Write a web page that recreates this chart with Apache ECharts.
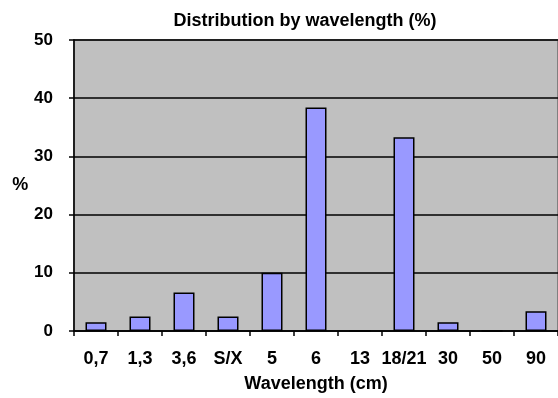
<!DOCTYPE html>
<html>
<head>
<meta charset="utf-8">
<script src="https://cdn.jsdelivr.net/npm/echarts@6/dist/echarts.min.js"></script>
<style>html,body{margin:0;padding:0;background:#fff;}#c{width:558px;height:398px;}</style>
</head>
<body>
<div id="c"></div>
<script>
var categories = ['0,7', '1,3', '3,6', 'S/X', '5', '6', '13', '18/21', '30', '50', '90'];
var values = [1.5, 2.5, 6.6, 2.5, 10, 38.4, 0, 33.3, 1.5, 0, 3.4];
var yTicks = {min: 0, max: 50, interval: 10};

var font = 'Liberation Sans, Arial, sans-serif';
var chart = echarts.init(document.getElementById('c'), null, {renderer: 'canvas'});
chart.setOption({
  animation: false,
  backgroundColor: '#ffffff',
  title: {
    text: 'Distribution by wavelength (%)',
    left: 300, top: 7, textAlign: 'center',
    textStyle: {fontFamily: font, fontWeight: 'bold', fontSize: 18, color: '#000'}
  },
  grid: {
    left: 74, top: 40, width: 492, height: 292,
    show: true, backgroundColor: '#c0c0c0', borderColor: '#808080', borderWidth: 2
  },
  xAxis: {
    type: 'category', data: categories, boundaryGap: true,
    name: 'Wavelength (cm)', nameLocation: 'middle', nameGap: 44,
    nameTextStyle: {fontFamily: font, fontWeight: 'bold', fontSize: 18, color: '#000'},
    axisLine: {lineStyle: {color: '#000', width: 1.5}},
    axisTick: {show: true, alignWithLabel: false, length: 5, lineStyle: {color: '#000', width: 1.5}},
    axisLabel: {fontFamily: font, fontWeight: 'bold', fontSize: 18, color: '#000', margin: 19, interval: 0},
    splitLine: {show: false}
  },
  yAxis: {
    type: 'value', min: yTicks.min, max: yTicks.max, interval: yTicks.interval,
    name: '%', nameLocation: 'middle', nameRotate: 0, nameGap: 44,
    nameTextStyle: {fontFamily: font, fontWeight: 'bold', fontSize: 18, color: '#000'},
    axisLine: {show: true, lineStyle: {color: '#000', width: 1.5}},
    axisTick: {show: true, length: 5, lineStyle: {color: '#000', width: 1.5}},
    axisLabel: {fontFamily: font, fontWeight: 'bold', fontSize: 17, color: '#000', margin: 21},
    splitLine: {show: true, lineStyle: {color: '#000', width: 1.5}}
  },
  series: [{
    type: 'bar', data: values, barWidth: 21,
    itemStyle: {color: '#9999ff', borderColor: '#000', borderWidth: 1.5}
  }]
});
</script>
</body>
</html>
